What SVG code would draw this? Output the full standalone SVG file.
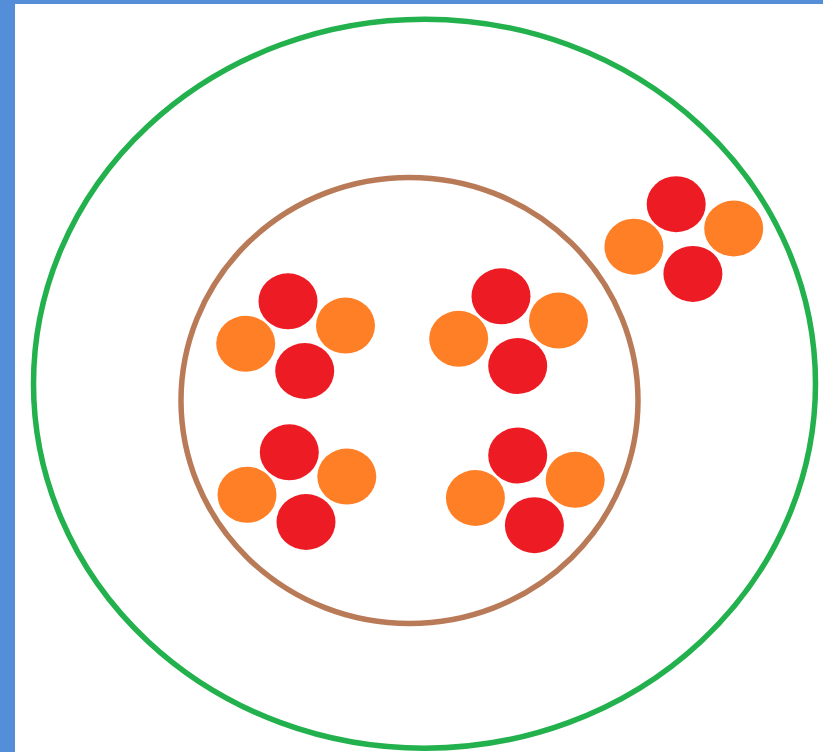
<svg xmlns="http://www.w3.org/2000/svg" xmlns:xlink="http://www.w3.org/1999/xlink" width="823" height="752" viewBox="0 0 823 752">
  <style>
    .red { fill: #ED1C24; }
    .orange { fill: #FF7F27; }
    .outer { fill: none; stroke: #22B14C; stroke-width: 5.5; }
    .inner { fill: none; stroke: #B97A57; stroke-width: 5.5; }
  </style>
  <defs>
    <g id="cluster">
      <ellipse class="red" cx="0" cy="0" rx="29.5" ry="28"/>
      <ellipse class="orange" cx="57.5" cy="24.3" rx="29.5" ry="28"/>
      <ellipse class="orange" cx="-42.3" cy="42.5" rx="29.5" ry="28"/>
      <ellipse class="red" cx="16.7" cy="69.7" rx="29.5" ry="28"/>
    </g>
  </defs>
  <rect x="0" y="0" width="823" height="752" fill="#FFFFFF"/>
  <g id="frame">
    <rect x="0" y="0" width="15" height="752" fill="#558ED8"/>
    <rect x="0" y="0" width="823" height="4" fill="#558ED8"/>
  </g>
  <g id="outer-boundary">
    <ellipse class="outer" cx="424.5" cy="383.7" rx="391" ry="364.5"/>
  </g>
  <g id="inner-boundary">
    <ellipse class="inner" cx="409.5" cy="400.5" rx="228.5" ry="223"/>
  </g>
  <g id="connectors"></g>
  <g id="cluster-top-left"><use xlink:href="#cluster" href="#cluster" transform="translate(288,301.3)"/></g>
  <g id="cluster-top-middle"><use xlink:href="#cluster" href="#cluster" transform="translate(501,296.3)"/></g>
  <g id="cluster-bottom-left"><use xlink:href="#cluster" href="#cluster" transform="translate(289.3,452.3)"/></g>
  <g id="cluster-bottom-middle"><use xlink:href="#cluster" href="#cluster" transform="translate(517.7,455.5)"/></g>
  <g id="cluster-outside"><use xlink:href="#cluster" href="#cluster" transform="translate(676.2,204.2)"/></g>
</svg>
